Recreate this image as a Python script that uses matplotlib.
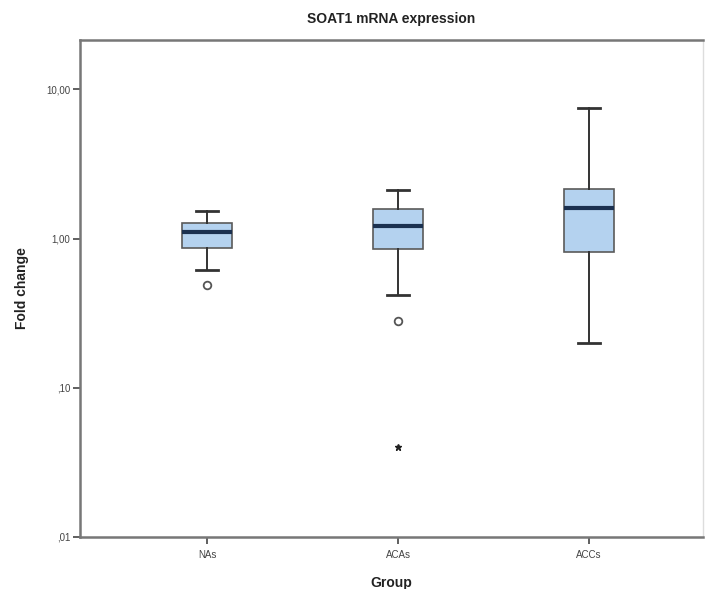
import matplotlib
matplotlib.use("Agg")
import matplotlib.pyplot as plt
from matplotlib.ticker import FixedLocator, FixedFormatter, NullLocator

plt.rcParams['font.family'] = ['Liberation Sans', 'DejaVu Sans']

groups = ["NAs", "ACAs", "ACCs"]
whisker_low = [0.62, 0.42, 0.20]
q1 = [0.87, 0.85, 0.81]
median = [1.10, 1.22, 1.61]
q3 = [1.28, 1.58, 2.16]
whisker_high = [1.52, 2.12, 7.55]
outliers_circle = [[0.485], [0.28], []]
outliers_star = [[], [0.0404], []]

ytick_vals = [0.01, 0.1, 1.0, 10.0]
ytick_labels = [",01", ",10", "1,00", "10,00"]

fig = plt.figure(figsize=(7.07, 5.89), dpi=100)
ax = fig.add_axes([80/707, 52/589, 623/707, 497/589])

stats = []
for i, g in enumerate(groups):
    stats.append(dict(label=g, whislo=whisker_low[i], q1=q1[i], med=median[i],
                      q3=q3[i], whishi=whisker_high[i], fliers=[]))
pos = list(range(1, len(groups) + 1))
ax.bxp(stats, positions=pos, widths=0.26, patch_artist=True, showfliers=False,
       boxprops=dict(facecolor="#b4d2ef", edgecolor="#5a5a5a", linewidth=1.2),
       medianprops=dict(color="#1b3150", linewidth=3),
       whiskerprops=dict(color="#333333", linewidth=1.4),
       capprops=dict(color="#333333", linewidth=2),
       capwidths=0.12)

for i, p in enumerate(pos):
    if outliers_circle[i]:
        ax.plot([p] * len(outliers_circle[i]), outliers_circle[i], 'o',
                markerfacecolor='white', markeredgecolor='#555555',
                markeredgewidth=1.3, markersize=5.5)
    if outliers_star[i]:
        ax.plot([p] * len(outliers_star[i]), outliers_star[i], '*',
                color='#222222', markersize=4.5)

ax.set_yscale('log')
ax.set_ylim(0.01, 21.4)
ax.set_xlim(0.335, 3.597)
ax.yaxis.set_major_locator(FixedLocator(ytick_vals))
ax.yaxis.set_major_formatter(FixedFormatter(ytick_labels))
ax.yaxis.set_minor_locator(NullLocator())
ax.set_xticks(pos)
ax.set_xticklabels(groups)

ax.tick_params(axis='both', labelsize=7, colors='#444444', length=5, width=1.2,
               direction='out')
ax.tick_params(axis='x', pad=4)
ax.tick_params(axis='y', pad=2)

for side in ['left', 'bottom', 'top']:
    ax.spines[side].set_color('#777777')
    ax.spines[side].set_linewidth(1.8)
ax.spines['right'].set_color('#dddddd')
ax.spines['right'].set_linewidth(1.0)

ax.set_title("SOAT1 mRNA expression", fontsize=10, fontweight='bold',
             color='#222222', pad=12)
ax.set_xlabel("Group", fontsize=10, fontweight='bold', color='#222222', labelpad=12)
ax.set_ylabel("Fold change", fontsize=10, fontweight='bold', color='#222222', labelpad=12)

fig.savefig("out.png", dpi=100)
